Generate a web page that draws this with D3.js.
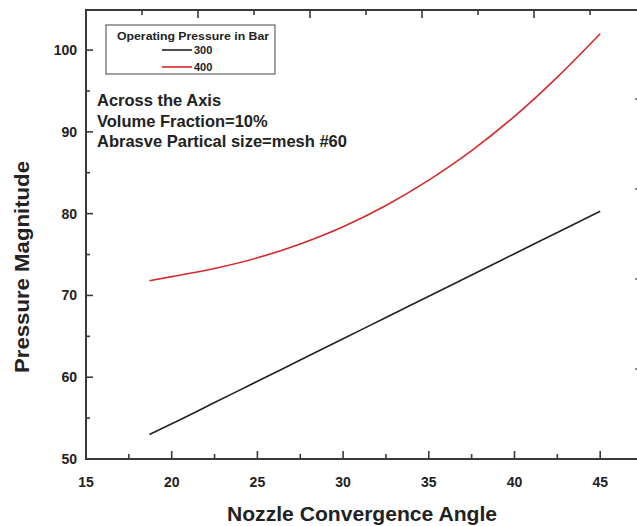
<!DOCTYPE html>
<html>
<head>
<meta charset="utf-8">
<script src="https://cdn.jsdelivr.net/npm/d3@7/dist/d3.min.js"></script>
<style>
  html, body { margin: 0; padding: 0; background: #fff; }
  svg { display: block; font-family: "Liberation Sans", Arial, sans-serif; }
</style>
</head>
<body>
<svg id="chart" width="637" height="526"></svg>
<script>
// Nozzle convergence angle (degrees)
const angles = [18.7, 20, 22.5, 25, 27.5, 30, 32.5, 35, 37.5, 40, 42.5, 45];
// Pressure magnitude for each operating pressure
const p300 = [53.0, 54.3, 56.9, 59.5, 62.1, 64.7, 67.3, 69.9, 72.5, 75.1, 77.7, 80.3];
const p400 = [71.8, 72.3, 73.3, 74.6, 76.3, 78.4, 81.0, 84.1, 87.7, 91.9, 96.7, 102.0];
const seriesNames = ["300", "400"];
const seriesColors = ["#222222", "#d42a2a"];
const xTicks = [15, 20, 25, 30, 35, 40, 45];
const yTicks = [50, 60, 70, 80, 90, 100];
const notes = ["Across the Axis", "Volume Fraction=10%", "Abrasve Partical size=mesh #60"];

const svg = d3.select("#chart");
const plotL = 86, plotR = 641, plotT = 10, plotB = 459;
const axisColor = "#3a3a3a";
const textColor = "#222";

const x = d3.scaleLinear().domain([15, 47.38]).range([plotL, plotR]);
const y = d3.scaleLinear().domain([50, 104.9]).range([plotB, plotT]);
// frame layer scales (top and right edges carry their own ticks)
const xTop = d3.scaleLinear().domain([0, 49.55]).range([plotL, plotR]);
const yRight = d3.scaleLinear().domain([0, 10]).range([plotB, plotB - 450]);

// frame lines
svg.append("path")
  .attr("d", `M${plotL},${plotB}V${plotT}H${plotR}V${plotB}Z`)
  .attr("stroke", axisColor).attr("stroke-width", 2).attr("fill", "none");

// ticks, all pointing inward
const tickG = svg.append("g").attr("stroke", axisColor).attr("stroke-width", 1.6);
d3.range(15, 47.5, 2.5).forEach(v => {
  const major = v % 5 === 0;
  tickG.append("line").attr("x1", x(v)).attr("x2", x(v))
    .attr("y1", plotB).attr("y2", plotB - (major ? 8 : 5));
});
d3.range(50, 105, 5).forEach(v => {
  const major = v % 10 === 0;
  tickG.append("line").attr("y1", y(v)).attr("y2", y(v))
    .attr("x1", plotL).attr("x2", plotL + (major ? 7 : 4));
});
d3.range(5, 50, 5).forEach(v => {
  const major = v % 10 === 0;
  tickG.append("line").attr("x1", xTop(v)).attr("x2", xTop(v))
    .attr("y1", plotT).attr("y2", plotT + (major ? 8 : 5));
});
d3.range(1, 10, 1).forEach(v => {
  const major = v % 2 === 0;
  tickG.append("line").attr("y1", yRight(v)).attr("y2", yRight(v))
    .attr("x1", plotR).attr("x2", plotR - (major ? 6 : 3))
    .attr("stroke-opacity", major ? 0.8 : 0.35);
});

// tick labels
svg.append("g").selectAll("text").data(xTicks).join("text")
  .attr("x", d => x(d)).attr("y", 487)
  .attr("text-anchor", "middle").attr("font-size", 14).attr("font-weight", "bold")
  .attr("fill", textColor).text(d => d);
svg.append("g").selectAll("text").data(yTicks).join("text")
  .attr("x", 77).attr("y", d => y(d) + 5)
  .attr("text-anchor", "end").attr("font-size", 14).attr("font-weight", "bold")
  .attr("fill", textColor).text(d => d);

// axis titles
svg.append("text").attr("x", 362).attr("y", 521)
  .attr("text-anchor", "middle").attr("font-size", 20).attr("font-weight", "bold")
  .attr("textLength", 270).attr("lengthAdjust", "spacingAndGlyphs")
  .attr("fill", textColor).text("Nozzle Convergence Angle");
svg.append("text").attr("transform", "translate(29,267) rotate(-90)")
  .attr("text-anchor", "middle").attr("font-size", 20).attr("font-weight", "bold")
  .attr("textLength", 212).attr("lengthAdjust", "spacingAndGlyphs")
  .attr("fill", textColor).text("Pressure Magnitude");

// series lines
const line = d3.line().x((d, i) => x(angles[i])).y(d => y(d)).curve(d3.curveMonotoneX);
[p300, p400].forEach((vals, k) => {
  svg.append("path").datum(vals).attr("d", line)
    .attr("fill", "none").attr("stroke", seriesColors[k]).attr("stroke-width", 1.6);
});

// legend
const lg = svg.append("g");
lg.append("rect").attr("x", 106).attr("y", 25).attr("width", 169).attr("height", 49)
  .attr("fill", "#fff").attr("stroke", "#444").attr("stroke-width", 1);
lg.append("text").attr("x", 193).attr("y", 40).attr("text-anchor", "middle")
  .attr("font-size", 11).attr("font-weight", "bold").attr("fill", textColor)
  .attr("textLength", 152).attr("lengthAdjust", "spacingAndGlyphs")
  .text("Operating Pressure in Bar");
seriesNames.forEach((name, k) => {
  const yy = 50 + k * 17;
  lg.append("line").attr("x1", 162).attr("x2", 192).attr("y1", yy).attr("y2", yy)
    .attr("stroke", seriesColors[k]).attr("stroke-width", 1.6);
  lg.append("text").attr("x", 194).attr("y", yy + 4)
    .attr("font-size", 11).attr("font-weight", "bold").attr("fill", textColor).text(name);
});

// annotations
svg.append("g").selectAll("text").data(notes).join("text")
  .attr("x", 97).attr("y", (d, i) => 106 + i * 20.5)
  .attr("font-size", 16.5).attr("font-weight", "bold").attr("fill", textColor)
  .text(d => d);
</script>
</body>
</html>
